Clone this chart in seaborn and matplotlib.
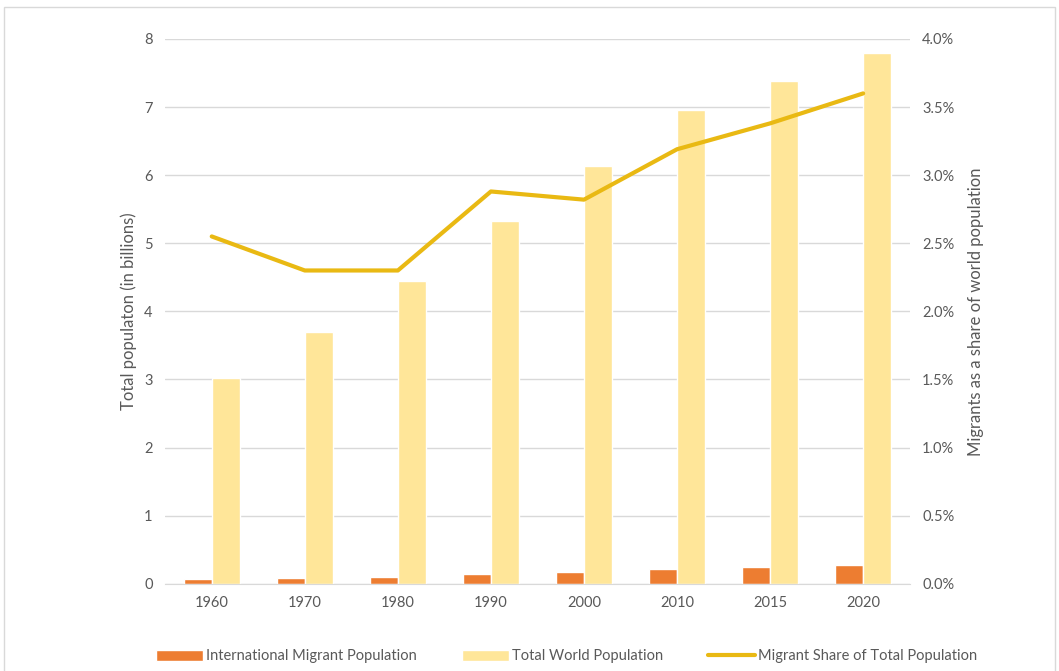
import numpy as np
import pandas as pd
import matplotlib.pyplot as plt
import seaborn as sns
from matplotlib.patches import Patch, Rectangle
from matplotlib.lines import Line2D
from matplotlib.ticker import PercentFormatter

# Dữ liệu
years = ['1960', '1970', '1980', '1990', '2000', '2010', '2015', '2020']
migrants = [0.077, 0.081, 0.10, 0.15, 0.17, 0.22, 0.25, 0.28]   # tỷ người
world = [3.02, 3.70, 4.45, 5.33, 6.14, 6.96, 7.38, 7.80]        # tỷ người
share = [2.55, 2.30, 2.30, 2.88, 2.82, 3.19, 3.38, 3.60]         # %

bar_names = ['International Migrant Population', 'Total World Population']
line_name = 'Migrant Share of Total Population'
colors = ['#ED7D31', '#FFE699']
line_color = '#E9B913'
grey = '#595959'

df = pd.DataFrame({
    'year': years * 2,
    'value': migrants + world,
    'series': [bar_names[0]] * len(years) + [bar_names[1]] * len(years),
})

sns.set_style('white')
plt.rcParams['font.family'] = ['Lato', 'DejaVu Sans']

fig = plt.figure(figsize=(10.59, 6.71), dpi=100)
ax = fig.add_axes([0.156, 0.130, 0.703, 0.812])

sns.barplot(data=df, x='year', y='value', hue='series', palette=colors,
            width=0.6, saturation=1, ax=ax, legend=False)
ax.set_ylim(0, 8)
ax.set_xlim(-0.5, len(years) - 0.5)
ax.set_yticks(range(0, 9))
ax.grid(axis='y', color='#d9d9d9', linewidth=1)
ax.set_axisbelow(True)
ax.set_xlabel('')
ax.set_ylabel('Total populaton (in billions)', fontsize=12, color=grey, labelpad=5)
ax.tick_params(axis='both', length=0, labelsize=10.5, labelcolor=grey, pad=9)
for s in ['top', 'right', 'left']:
    ax.spines[s].set_visible(False)
ax.spines['bottom'].set_color('#d9d9d9')

# Trục phải - tỷ lệ di cư
ax2 = ax.twinx()
sns.lineplot(x=np.arange(len(years)), y=share, color=line_color, linewidth=3,
             ax=ax2, legend=False)
ax2.set_ylim(0, 4)
ax2.set_yticks(np.arange(0, 4.01, 0.5))
ax2.yaxis.set_major_formatter(PercentFormatter(decimals=1))
ax2.set_ylabel('Migrants as a share of world population', fontsize=12, color=grey, labelpad=10)
ax2.tick_params(axis='y', length=0, labelsize=10.5, labelcolor=grey, pad=9)
for s in ax2.spines.values():
    s.set_visible(False)

# Chú thích
handles = [Patch(facecolor=colors[0]), Patch(facecolor=colors[1]),
           Line2D([0], [0], color=line_color, linewidth=3)]
fig.legend(handles, bar_names + [line_name], loc='lower center',
           bbox_to_anchor=(0.535, -0.008), ncol=3, frameon=False, fontsize=10.5,
           labelcolor=grey, handlelength=3.2, handleheight=0.8,
           handletextpad=0.2, columnspacing=3.1)

# Khung viền
fig.patches.append(Rectangle((0.004, -0.01), 0.992, 1.0, transform=fig.transFigure,
                             fill=False, edgecolor='#d9d9d9', linewidth=1))

fig.savefig('out.png', dpi=100)
